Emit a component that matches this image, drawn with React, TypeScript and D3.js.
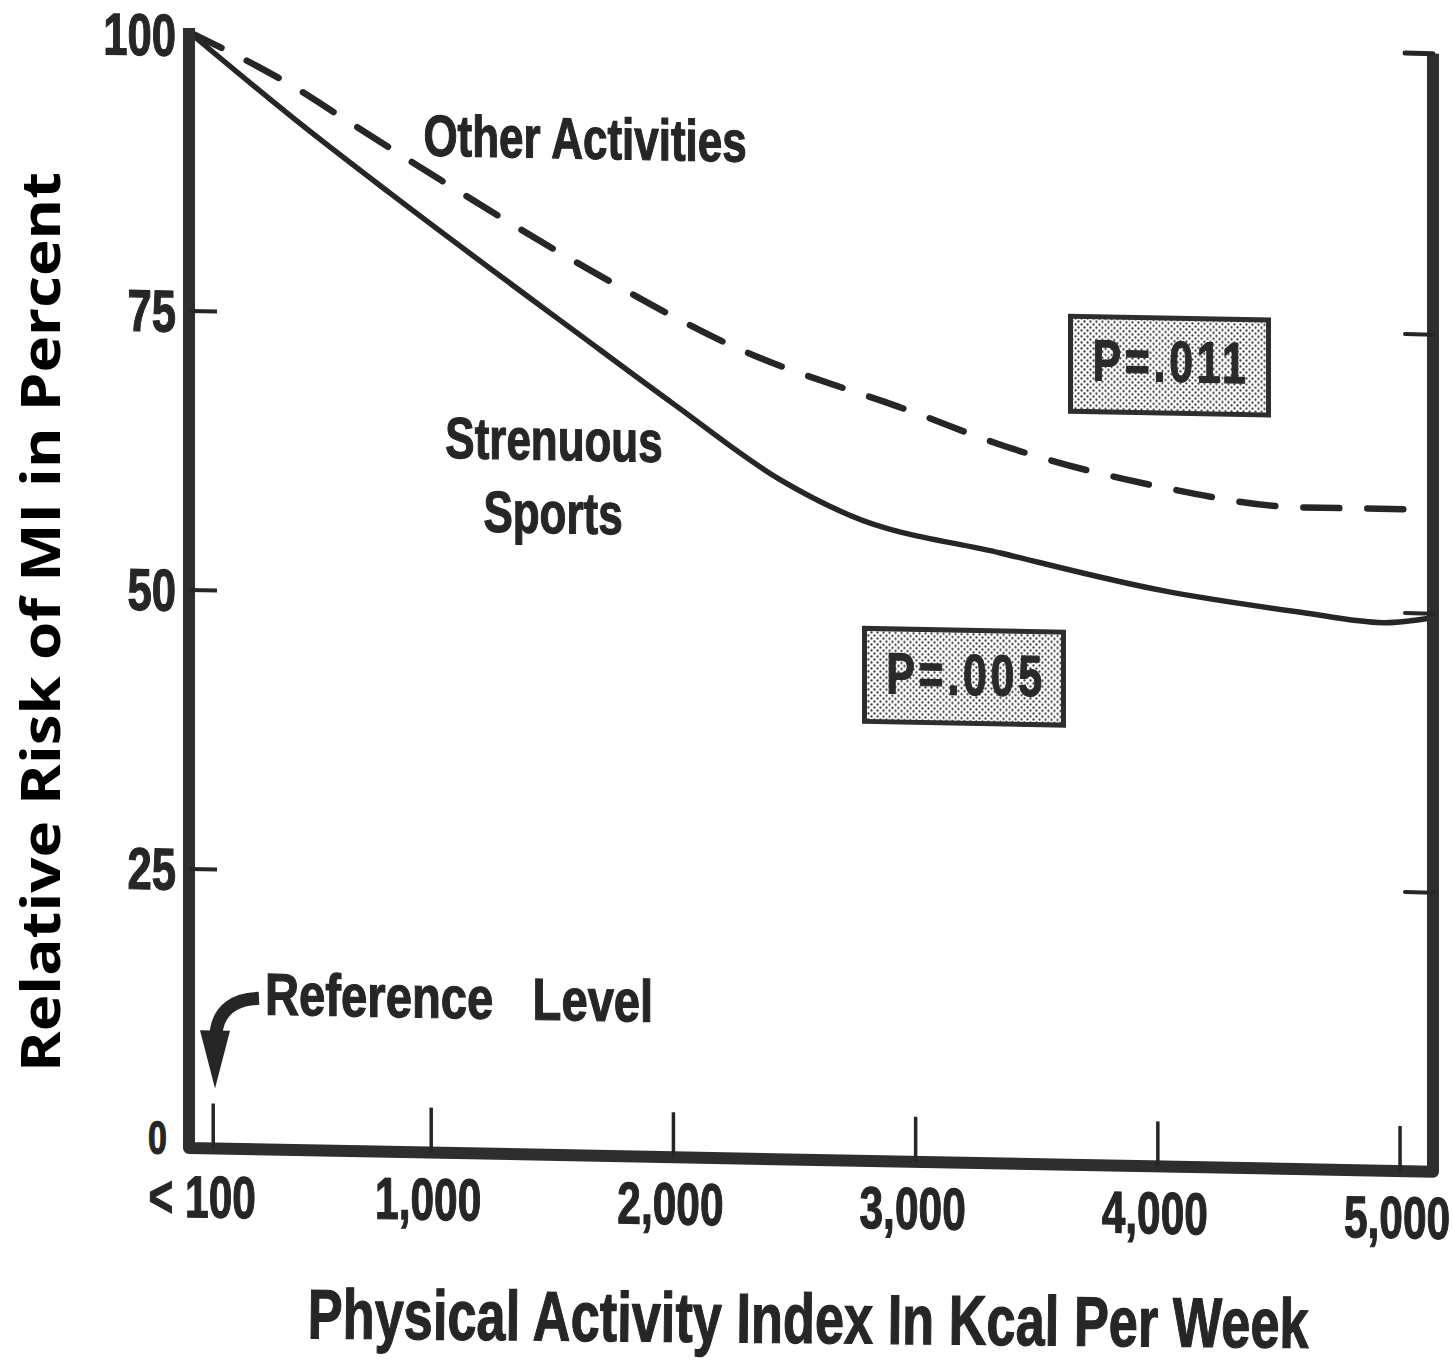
import React from 'react';
import * as d3 from 'd3';

// values (kcal per week -> relative risk %)
const kcalStrenuous = [0, 458, 830, 1615, 2000, 2440, 2730, 3350, 4020, 4590, 4930, 5130];
const riskStrenuous = [100, 92.0, 85.9, 73.5, 67.5, 60.9, 57.8, 54.7, 51.6, 49.9, 49.1, 49.6];
const kcalOther = [0, 446, 632, 1036, 1643, 2242, 3000, 3350, 4010, 4590, 5100];
const riskOther = [100, 95.1, 92.6, 87.2, 79.5, 72.8, 67.1, 64.4, 60.9, 59.3, 59.3];

const xTicks = [100, 1000, 2000, 3000, 4000, 5000];
const xTickLabels = ['< 100', '1,000', '2,000', '3,000', '4,000', '5,000'];
const yTicks = [0, 25, 50, 75, 100];
const yInnerTicks = [25, 50, 75];
const yRightTicks = [25, 50, 75];

const W = 1452;
const H = 1368;
const INK = '#262626';
const SLOPE = 0.019; // the scan is sheared a little

type Pt = [number, number];

const CondText = ({ x, y, size, sx, anchor = 'middle', fill = INK, spacing = 0, children }: any) => (
  <text
    transform={`translate(${x},${y}) scale(${sx},1)`}
    fontFamily="'Liberation Sans', Arial, sans-serif"
    fontWeight="bold"
    fontSize={size}
    textAnchor={anchor}
    fill={fill}
    stroke={fill}
    strokeWidth={1.2}
    letterSpacing={spacing}
    style={{ whiteSpace: 'pre' }}
  >
    {children}
  </text>
);

export default function App() {
  const x = d3.scaleLinear().domain([0, 5136]).range([189, 1433]);
  const y = d3.scaleLinear().domain([0, 100]).range([1148, 32]);

  const line = d3.line<Pt>()
    .x(d => x(d[0]))
    .y(d => y(d[1]))
    .curve(d3.curveMonotoneX);

  const strenuous: Pt[] = kcalStrenuous.map((k, i) => [k, riskStrenuous[i]]);
  const other: Pt[] = kcalOther.map((k, i) => [k, riskOther[i]]);

  const [x0, x1] = x.range();
  const y0 = y(0);
  const yTop = y(100);
  const skewDeg = (Math.atan(SLOPE) * 180) / Math.PI;

  // small per-label nudges, the scanned labels are not all on one line
  const yLabelPos = (t: number) => (t === 0 ? 1154 : t === 100 ? y(t) + 24 : y(t) + 21);

  return (
    <svg width={W} height={H} style={{ position: 'absolute', left: 0, top: 0, background: '#fff' }}>
      <defs>
        <pattern id="dots" width={6} height={6} patternUnits="userSpaceOnUse">
          <rect width={6} height={6} fill="#fff" />
          <circle cx={1.5} cy={1.5} r={1.15} fill="#333" />
          <circle cx={4.5} cy={4.5} r={1.15} fill="#333" />
        </pattern>
      </defs>

      <g transform={`translate(0,${-SLOPE * x0}) skewY(${skewDeg})`}>
        {/* curves */}
        <path d={line(strenuous) || ''} fill="none" stroke={INK} strokeWidth={5.5} strokeLinecap="round" />
        <path d={line(other) || ''} fill="none" stroke={INK} strokeWidth={6.5} strokeDasharray="36 28" strokeLinecap="round" />

        {/* frame */}
        <path
          d={`M${x0},${yTop - 4}L${x0},${y0}L${x1},${y0}L${x1},${yTop - 2}`}
          fill="none"
          stroke="#2e2e2e"
          strokeWidth={12}
          strokeLinejoin="round"
        />
        <line x1={x1} x2={x1 - 28} y1={yTop - 2} y2={yTop - 2} stroke={INK} strokeWidth={5} strokeLinecap="round" />
        {yInnerTicks.map(t => (
          <line key={'l' + t} x1={x0} x2={x0 + 28} y1={y(t)} y2={y(t)} stroke={INK} strokeWidth={4} />
        ))}
        {yRightTicks.map(t => (
          <line key={'r' + t} x1={x1} x2={x1 - 28} y1={y(t)} y2={y(t)} stroke={INK} strokeWidth={4} strokeLinecap="round" />
        ))}
        {xTicks.map(t => (
          <line key={'b' + t} x1={x(t)} x2={x(t)} y1={y0} y2={y0 - 45} stroke={INK} strokeWidth={3.5} />
        ))}

        {/* tick labels */}
        {yTicks.map(t => (
          <CondText key={'yl' + t} x={t === 0 ? 167 : 176} y={yLabelPos(t)} size={t === 0 ? 46 : 59} sx={0.74} anchor="end">
            {String(t)}
          </CondText>
        ))}
        {xTicks.map((t, i) => (
          <CondText key={'xl' + t} x={x(t) + (i === 0 ? -11 : -3)} y={i === 0 ? 1217 : 1215} size={59} sx={0.72}>
            {xTickLabels[i]}
          </CondText>
        ))}

        {/* annotations */}
        <CondText x={585} y={151} size={58} sx={0.758}>Other Activities</CondText>
        <CondText x={554} y={453} size={58} sx={0.758}>Strenuous</CondText>
        <CondText x={553} y={526} size={58} sx={0.758}>Sports</CondText>
        <CondText x={265} y={1013} size={59} sx={0.8} anchor="start">{'Reference   Level'}</CondText>
        <path d="M259,997 C236,998 219,1008 216,1032" fill="none" stroke={INK} strokeWidth={13} />
        <path d="M200,1030 L230,1030 L215,1088 Z" fill={INK} />

        {/* p-value boxes */}
        <rect x={1070.5} y={299.5} width={198} height={95} fill="url(#dots)" stroke="#2e2e2e" strokeWidth={5} />
        <CondText x={1171} y={363} size={58} sx={0.74} spacing={5} fill="#2a2a2a">P=.011</CondText>
        <rect x={864.5} y={615.5} width={199} height={93} fill="url(#dots)" stroke="#2e2e2e" strokeWidth={5} />
        <CondText x={966} y={680} size={58} sx={0.74} spacing={5} fill="#2a2a2a">P=.005</CondText>
      </g>

      {/* x title */}
      <g transform="translate(808,1343) rotate(0.55)">
        <CondText x={0} y={0} size={70} sx={0.748}>Physical Activity Index In Kcal Per Week</CondText>
      </g>

      {/* y title */}
      <text
        transform="translate(60,622) rotate(-90)"
        fontFamily="'Open Sans', 'Noto Sans', sans-serif"
        fontWeight="bold"
        fontSize={53}
        textAnchor="middle"
        textLength={900}
        lengthAdjust="spacingAndGlyphs"
        fill="#000"
      >
        Relative Risk of MI in Percent
      </text>
    </svg>
  );
}
